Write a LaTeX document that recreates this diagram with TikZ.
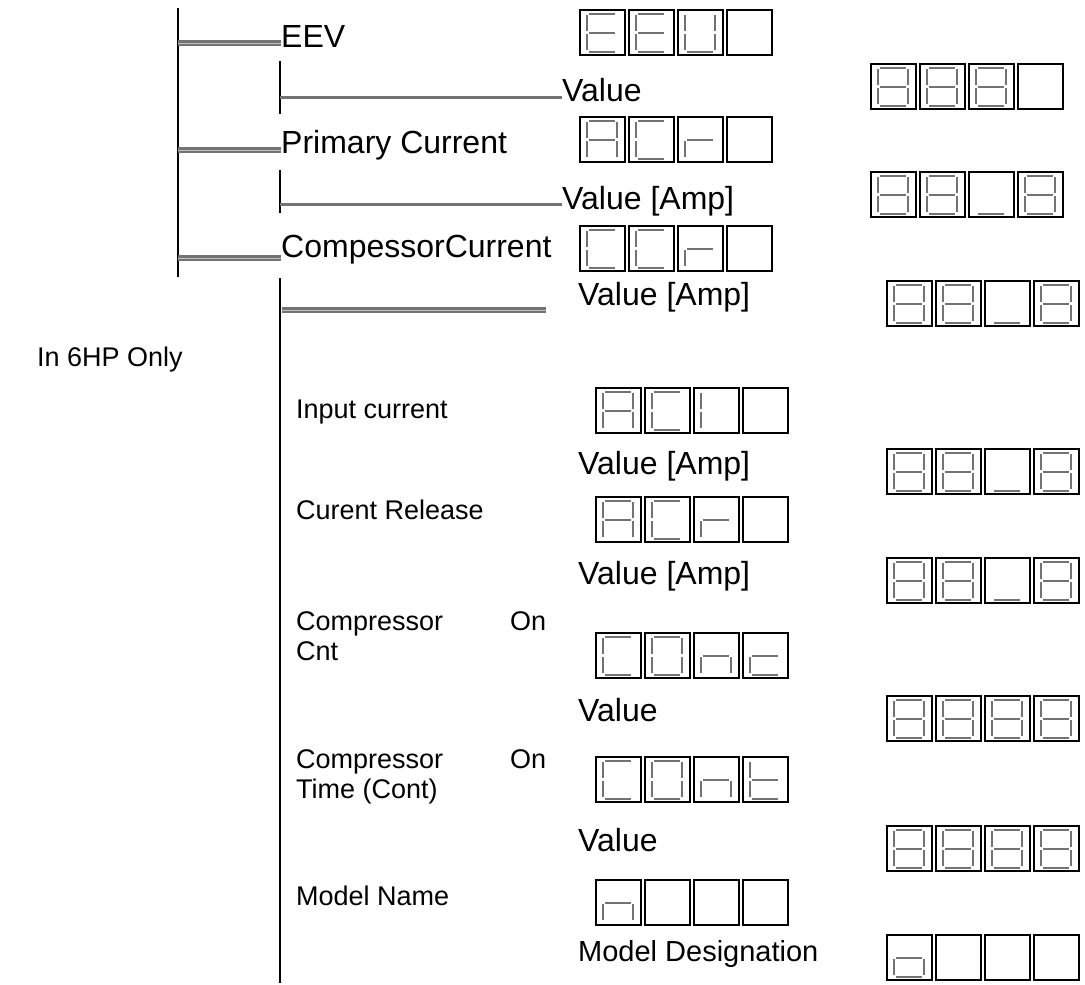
\documentclass[tikz,border=0pt]{standalone}
\usepackage{fontspec}
\setmainfont{Liberation Sans}
\makeatletter
\newcommand\sdigit[3]{%
  \begin{scope}[shift={(#1,#2)}]
    \draw[boxline] (0,0) rectangle (45,45);
    \in@{a}{#3}\ifin@ \draw[segline] (9,3.5) -- (35,3.5); \fi
    \in@{b}{#3}\ifin@ \draw[segline] (37,5) -- (37,21); \fi
    \in@{c}{#3}\ifin@ \draw[segline] (37,24) -- (37,40); \fi
    \in@{d}{#3}\ifin@ \draw[segline] (9,41.5) -- (35,41.5); \fi
    \in@{e}{#3}\ifin@ \draw[segline] (7,24) -- (7,40); \fi
    \in@{f}{#3}\ifin@ \draw[segline] (7,5) -- (7,21); \fi
    \in@{g}{#3}\ifin@ \draw[segline] (9,22.5) -- (35,22.5); \fi
  \end{scope}}
\makeatother
\newcommand\sdisp[6]{%
  \sdigit{#1}{#2}{#3}%
  \sdigit{#1+49}{#2}{#4}%
  \sdigit{#1+98}{#2}{#5}%
  \sdigit{#1+147}{#2}{#6}}
\begin{document}
\begin{tikzpicture}[x=1pt,y=-1pt,
  boxline/.style={draw=black,line width=1.8pt},
  segline/.style={draw=black!55,line width=2pt},
  vline/.style={draw=black,line width=1.6pt},
  dline/.style={draw=black!55,line width=3pt,double=black!25,double distance=0.6pt},
  sline/.style={draw=black!55,line width=3pt},
  big/.style={inner sep=0pt,anchor=base west,font=\fontsize{32}{38}\selectfont},
  mid/.style={inner sep=0pt,anchor=base west,font=\fontsize{29}{34}\selectfont},
  small/.style={inner sep=0pt,anchor=base west,font=\fontsize{27}{30}\selectfont}]
\useasboundingbox (0,0) rectangle (1085,985);
% texts
\node[big] (eev) at (281,47) {EEV};
\node[big] (val1) at (562,101) {Value};
\node[big] (prim) at (281,153) {Primary Current};
\node[big] (val2) at (562,209) {Value [Amp]};
\node[big] (comp) at (281,257) {CompessorCurrent};
\node[big] (val3) at (578,305) {Value [Amp]};
\node[small] (hp) at (37,366) {In 6HP Only};
\node[small] (inp) at (296,418) {Input current};
\node[big] (val4) at (578,474) {Value [Amp]};
\node[small] (rel) at (296,519) {Curent Release};
\node[big] (val5) at (578,584) {Value [Amp]};
\node[small] (cnta) at (296,630) {\makebox[250pt][s]{Compressor On}};
\node[small] (cntb) at (296,660) {Cnt};
\node[big] (val6) at (578,721) {Value};
\node[small] (tima) at (296,768) {\makebox[250pt][s]{Compressor On}};
\node[small] (timb) at (296,798) {Time (Cont)};
\node[big] (val7) at (578,851) {Value};
\node[small] (mod) at (296,905) {Model Name};
\node[mid] (des) at (578,961) {Model Designation};
% tree lines
\coordinate (t1) at (178,8);
\coordinate (t2) at (178,277);
\draw[vline] (t1) -- (t2);
\coordinate (b1) at (178,43);
\coordinate (b2) at (178,150);
\coordinate (b3) at (178,258);
\draw[dline] (b1) -- (b1 -| eev.west);
\draw[dline] (b2) -- (b2 -| prim.west);
\draw[dline] (b3) -- (b3 -| comp.west);
\coordinate (s1a) at (280,61);
\coordinate (s1b) at (280,114);
\coordinate (s2a) at (280,170);
\coordinate (s2b) at (280,213);
\draw[vline] (s1a) -- (s1b);
\draw[vline] (s2a) -- (s2b);
\coordinate (h1) at (280,97);
\coordinate (h2) at (280,204);
\draw[sline] (h1) -- (h1 -| val1.west);
\draw[sline] (h2) -- (h2 -| val2.west);
\coordinate (m1) at (280,278);
\coordinate (m2) at (280,983);
\draw[vline] (m1) -- (m2);
\coordinate (d1) at (282,310);
\coordinate (d2) at (546,310);
\draw[dline] (d1) -- (d2);
% displays
\sdisp{580}{10}{adefg}{adefg}{bcdef}{}
\sdisp{871}{64}{abcdefg}{abcdefg}{abcdefg}{}
\sdisp{580}{117}{abcefg}{adef}{eg}{}
\sdisp{871}{172}{abcdefg}{abcdefg}{d}{abcdefg}
\sdisp{580}{226}{adef}{adef}{eg}{}
\sdisp{887}{281}{abcdefg}{abcdefg}{d}{abcdefg}
\sdisp{596}{388}{abcefg}{adef}{ef}{}
\sdisp{887}{449}{abcdefg}{abcdefg}{d}{abcdefg}
\sdisp{596}{497}{abcefg}{adef}{eg}{}
\sdisp{887}{558}{abcdefg}{abcdefg}{d}{abcdefg}
\sdisp{596}{633}{adef}{abcdef}{ceg}{deg}
\sdisp{887}{696}{abcdefg}{abcdefg}{abcdefg}{abcdefg}
\sdisp{596}{757}{adef}{abcdef}{ceg}{defg}
\sdisp{887}{826}{abcdefg}{abcdefg}{abcdefg}{abcdefg}
\sdisp{596}{880}{ceg}{}{}{}
\sdisp{887}{935}{cdeg}{}{}{}
\end{tikzpicture}
\end{document}
